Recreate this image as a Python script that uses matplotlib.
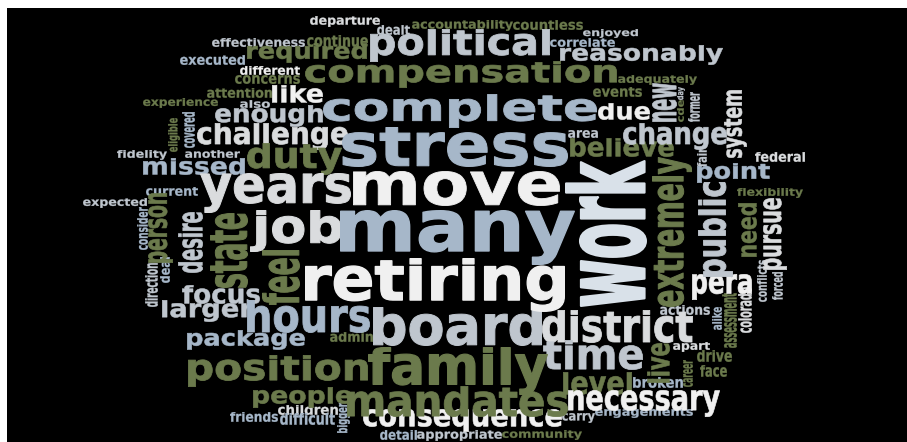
import matplotlib
matplotlib.use("Agg")
import numpy as np
import matplotlib.pyplot as plt
from matplotlib.textpath import TextPath
from matplotlib.font_manager import FontProperties
from matplotlib.patches import PathPatch, Rectangle
from matplotlib.path import Path
from matplotlib.transforms import Affine2D

# ---------------- data ----------------
words = ["many", "work", "retiring", "move", "stress", "complete", "years", "board",
         "family", "job", "compensation", "political", "mandates", "position", "district",
         "hours", "extremely", "duty", "state", "public", "time", "feel", "consequence",
         "reasonably", "necessary", "required", "challenge", "change", "enough", "package",
         "system", "people", "larger", "point", "believe", "missed", "person", "desire",
         "pursue", "level", "live", "focus", "new", "pera", "need", "due", "like",
         "departure", "dealt", "accountability", "countless", "effectiveness", "continue",
         "enjoyed", "correlate", "executed", "different", "concerns", "adequately",
         "attention", "events", "cde", "day", "former", "experience", "also", "area",
         "eligible", "covered", "fidelity", "another", "federal", "fair", "current",
         "expected", "consider", "direction", "deal", "flexibility", "conflicts", "forced",
         "colorado", "assessment", "alike", "actions", "apart", "drive", "career", "face",
         "broken", "admin", "children", "friends", "difficult", "bigger", "carry",
         "engagements", "detail", "appropriate", "community"]
weights = [10, 10, 9, 8, 8, 7, 7, 7,
           7, 6, 6, 6, 5, 5, 5,
           5, 5, 5, 5, 5, 5, 5, 4,
           4, 4, 4, 4, 4, 4, 3,
           3, 3, 3, 3, 3, 3, 3, 3,
           3, 3, 3, 3, 3, 3, 3, 3, 3,
           2, 2, 2, 2, 2, 2,
           2, 2, 2, 2, 2, 2,
           2, 2, 1, 1, 1, 2, 1, 1,
           1, 1, 2, 1, 1, 1, 1,
           1, 1, 1, 1, 1, 1, 1,
           1, 1, 1, 1, 1, 1, 1, 1,
           1, 1, 1, 1, 1, 1, 1,
           1, 1, 1, 1]
tones = ["B", "P", "W", "W", "B", "B", "L", "G",
         "O", "L", "O", "G", "O", "O", "L",
         "B", "O", "O", "O", "G", "G", "O", "W",
         "G", "W", "O", "L", "G", "G", "B",
         "L", "O", "G", "B", "O", "B", "O", "G",
         "L", "O", "O", "G", "G", "W", "O", "W", "W",
         "L", "G", "O", "O", "G", "O",
         "G", "B", "B", "W", "O", "O",
         "O", "O", "O", "G", "G", "O", "G", "G",
         "O", "B", "G", "G", "L", "G", "B",
         "G", "B", "G", "B", "O", "G", "G",
         "L", "O", "B", "G", "L", "O", "O", "O",
         "B", "O", "L", "B", "B", "B", "G",
         "B", "B", "G", "O"]

# ---------------- layout / style ----------------
palette = {"W": "#f0f0f0", "L": "#dadcde", "G": "#bfc6ce", "B": "#a6b7c9",
           "P": "#d9e1e9", "O": "#6b7a4c"}

# ink box (left, top, right, bottom) in pixels, vertical flag
layout = {
    "many": (340, 210, 575, 265, 0), "work": (565, 160, 647, 307, 1),
    "retiring": (305, 258, 565, 312, 0), "move": (353, 171, 560, 206, 0),
    "stress": (342, 127, 568, 167, 0), "complete": (323, 94, 597, 128, 0),
    "years": (200, 173, 351, 213, 0), "board": (373, 307, 542, 346, 0),
    "family": (368, 347, 548, 395, 0), "job": (250, 210, 342, 252, 0),
    "compensation": (305, 61, 617, 88, 0), "political": (370, 29, 550, 62, 0),
    "mandates": (347, 386, 568, 417, 0), "position": (188, 355, 368, 387, 0),
    "district": (542, 310, 693, 343, 0), "hours": (247, 300, 370, 333, 0),
    "extremely": (652, 157, 692, 307, 1), "duty": (247, 143, 342, 175, 0),
    "state": (210, 213, 248, 288, 1), "public": (698, 182, 733, 277, 1),
    "time": (543, 340, 643, 370, 0), "feel": (262, 250, 300, 305, 1),
    "consequence": (363, 409, 562, 432, 0), "reasonably": (560, 45, 723, 65, 0),
    "necessary": (568, 390, 720, 417, 0), "required": (247, 43, 367, 63, 0),
    "challenge": (197, 123, 348, 150, 0), "change": (623, 123, 727, 150, 0),
    "enough": (215, 105, 323, 127, 0), "package": (187, 330, 305, 350, 0),
    "system": (724, 90, 747, 158, 1), "people": (253, 387, 352, 408, 0),
    "larger": (162, 300, 253, 322, 0), "point": (697, 163, 770, 183, 0),
    "believe": (570, 138, 674, 157, 0), "missed": (143, 158, 245, 175, 0),
    "person": (148, 193, 173, 263, 1), "desire": (178, 212, 203, 273, 1),
    "pursue": (763, 198, 787, 270, 1), "level": (563, 372, 632, 395, 0),
    "live": (647, 343, 670, 383, 1), "focus": (182, 285, 260, 304, 0),
    "new": (652, 83, 677, 122, 1), "pera": (692, 274, 752, 300, 0),
    "need": (738, 203, 757, 257, 1), "due": (598, 103, 650, 120, 0),
    "like": (272, 85, 323, 103, 0), "departure": (310, 16, 380, 27, 0),
    "dealt": (377, 25, 410, 35, 0), "accountability": (412, 20, 513, 31, 0),
    "countless": (513, 20, 583, 30, 0), "effectiveness": (212, 38, 305, 47, 0),
    "continue": (307, 35, 368, 47, 0), "enjoyed": (583, 29, 638, 38, 0),
    "correlate": (550, 38, 615, 47, 0), "executed": (180, 55, 245, 65, 0),
    "different": (240, 66, 300, 75, 0), "concerns": (235, 75, 300, 84, 0),
    "adequately": (618, 75, 697, 85, 0), "attention": (207, 88, 272, 98, 0),
    "events": (593, 87, 642, 97, 0), "cde": (677, 100, 684, 122, 1),
    "day": (677, 87, 685, 100, 1), "former": (688, 92, 700, 122, 1),
    "experience": (143, 98, 218, 108, 0), "also": (240, 100, 270, 108, 0),
    "area": (568, 130, 598, 138, 0), "eligible": (168, 118, 180, 152, 1),
    "covered": (182, 112, 195, 148, 1), "fidelity": (117, 150, 167, 160, 0),
    "another": (185, 150, 240, 158, 0), "federal": (755, 152, 805, 162, 0),
    "fair": (697, 148, 707, 167, 1), "current": (146, 187, 198, 196, 0),
    "expected": (83, 198, 147, 208, 0), "consider": (137, 207, 148, 250, 1),
    "direction": (145, 263, 158, 307, 1), "deal": (160, 257, 170, 283, 1),
    "flexibility": (737, 188, 803, 198, 0), "conflicts": (757, 260, 767, 302, 1),
    "forced": (772, 272, 783, 300, 1), "colorado": (738, 287, 752, 333, 1),
    "assessment": (722, 293, 737, 348, 1), "alike": (712, 307, 722, 330, 1),
    "actions": (660, 305, 710, 315, 0), "apart": (673, 342, 710, 352, 0),
    "drive": (697, 350, 732, 362, 0), "career": (683, 360, 693, 387, 1),
    "face": (700, 365, 727, 377, 0), "broken": (633, 377, 683, 388, 0),
    "admin": (330, 332, 373, 342, 0), "children": (278, 405, 338, 415, 0),
    "friends": (230, 412, 278, 422, 0), "difficult": (280, 413, 335, 425, 0),
    "bigger": (337, 403, 350, 433, 1), "carry": (562, 413, 595, 423, 0),
    "engagements": (595, 408, 693, 418, 0), "detail": (380, 430, 417, 440, 0),
    "appropriate": (417, 430, 502, 441, 0), "community": (502, 430, 582, 440, 0),
}

fp = FontProperties(family="DejaVu Sans", weight="bold")
XH = TextPath((0, 0), "x", size=100, prop=fp).get_extents().y1
ASC_K, DESC_K = 0.6, 0.85   # squash ascenders/descenders -> tall x-height look
STROKE_K = 0.025            # extra stroke weight relative to word height

W, H = 907, 442
fig = plt.figure(figsize=(W / 100, H / 100), dpi=100, facecolor="white")
ax = fig.add_axes([0, 0, 1, 1])
ax.set_xlim(0, W)
ax.set_ylim(H, 0)
ax.axis("off")
ax.add_patch(Rectangle((7, 8), W - 7, H - 8, facecolor="black", edgecolor="none", zorder=0))


def glyph_path(word, vert):
    tp = TextPath((0, 0), word, size=100, prop=fp)
    v = tp.vertices.copy()
    y = v[:, 1]
    y = np.where(y > XH, XH + (y - XH) * ASC_K, y)
    y = np.where(y < 0, y * DESC_K, y)
    v[:, 1] = y
    p = Path(v, tp.codes)
    if vert:
        p = Affine2D().rotate_deg(90).transform_path(p)
    return p


def place(word, box, color, z):
    x0, y0, x1, y1, vert = box
    path = glyph_path(word, vert)
    thick = (x1 - x0) if vert else (y1 - y0)
    s = STROKE_K * thick           # stroke width in px
    x0, x1, y0, y1 = x0 + s / 2, x1 - s / 2, y0 + s / 2, y1 - s / 2
    ext = path.get_extents()
    sx = (x1 - x0) / ext.width
    sy = (y1 - y0) / ext.height
    tr = (Affine2D().translate(-ext.x0, -ext.y1)
          .scale(sx, -sy).translate(x0, y0))
    patch = PathPatch(tr.transform_path(path), facecolor=color,
                      edgecolor=color, lw=s * 0.72, joinstyle="round", zorder=z)
    ax.add_patch(patch)


order = sorted(range(len(words)), key=lambda i: weights[i])
for z, i in enumerate(order):
    place(words[i], layout[words[i]], palette[tones[i]], 1 + z * 0.01)

fig.savefig("out.png", dpi=100, facecolor="white")
